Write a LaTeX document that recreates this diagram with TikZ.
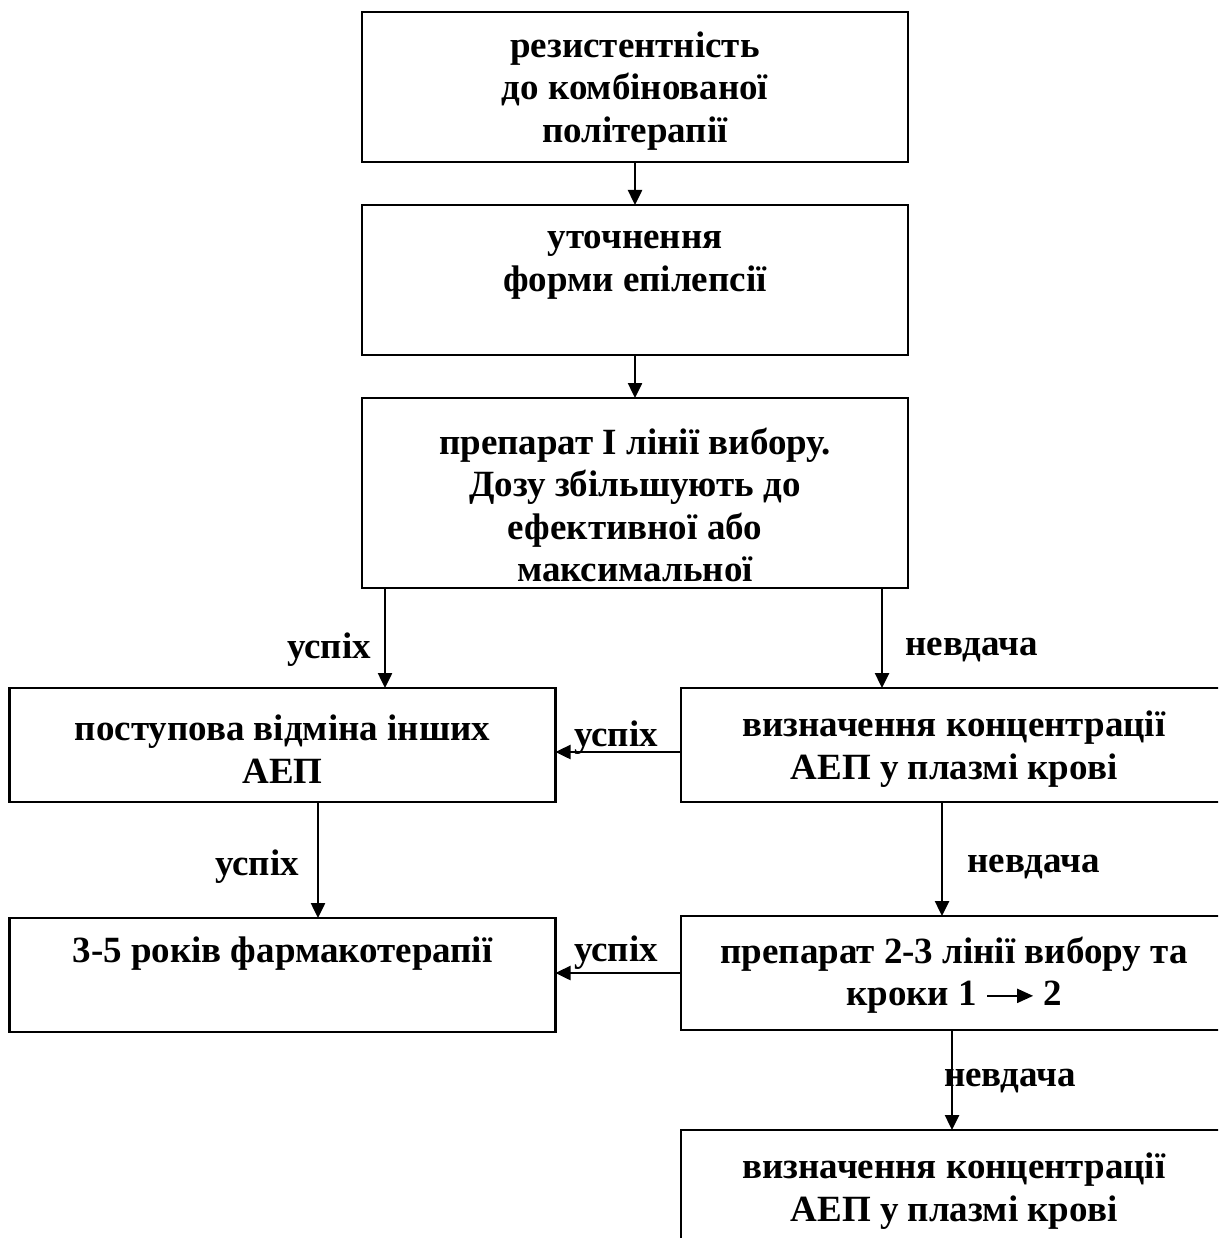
\documentclass[tikz,border=0pt]{standalone}
\usepackage{fontspec}
\setmainfont{Liberation Serif}
\usetikzlibrary{arrows.meta}
\begin{document}
\begin{tikzpicture}[x=1pt,y=-1pt,
 box/.style={draw,line width=2.5pt,minimum width=546pt,inner sep=0pt,outer sep=0pt},
 txt/.style={align=center,font=\fontsize{37}{42.5}\selectfont\bfseries,inner sep=0pt},
 lbl/.style={font=\fontsize{37}{42.5}\selectfont\bfseries,inner sep=0pt},
 arr/.style={line width=2.5pt,-{Triangle[length=15pt,width=14pt]}}]
\useasboundingbox (0,0) rectangle (1218,1238);
\clip (0,0) rectangle (1218,1238);
\fill[white] (0,0) rectangle (1218,1238);
% boxes
\node[box,minimum height=150pt] (b1) at (635,87) {};
\node[box,minimum height=150pt] (b2) at (635,280) {};
\node[box,minimum height=190pt] (b3) at (635,493) {};
\node[box,minimum height=114pt] (b4) at (282.5,745) {};
\node[box,minimum height=114pt] (b5) at (954,745) {};
\node[box,minimum height=114pt] (b6) at (282.5,975) {};
\node[box,minimum height=114pt] (b7) at (954,973) {};
\node[box,minimum height=140pt] (b8) at (954,1200) {};
% texts
\node[txt] (t1) at (635,91) {резистентність\\до комбінованої\\політерапії};
\node[txt] (t2) at (635,265) {уточнення\\форми епілепсії};
\node[txt] (t3) at (635,505) {препарат І лінії вибору.\\Дозу збільшують до\\ефективної або\\максимальної};
\node[txt] (t4) at (282.5,749) {поступова відміна інших\\АЕП};
\node[txt] (t5) at (954,749) {визначення концентрації\\АЕП у плазмі крові};
\node[txt] (t6) at (282.5,954) {3-5 років фармакотерапії};
\node[txt] (t7) at (954,975) {препарат 2-3 лінії вибору та\\кроки 1 \tikz[baseline=-0.1ex]\draw[line width=2pt,-{Triangle[length=16pt,width=14pt]}] (0pt,8pt) -- (46pt,8pt); 2};
\node[txt] (t8) at (954,1191) {визначення концентрації\\АЕП у плазмі крові};
% connectors
\draw[arr] (b1.south) -- (b2.north);
\draw[arr] (b2.south) -- (b3.north);
\coordinate (s1) at ([xshift=-250pt]b3.south);
\draw[arr] (s1) -- (s1 |- b4.north);
\coordinate (f1) at ([xshift=247pt]b3.south);
\draw[arr] (f1) -- (f1 |- b5.north);
\draw[arr] ([yshift=-7pt]b5.west) -- ([yshift=-7pt]b4.east);
\draw[arr] ([xshift=35.5pt]b4.south) -- ([xshift=35.5pt]b6.north);
\draw[arr] ([xshift=-12pt]b5.south) -- ([xshift=-12pt]b7.north);
\draw[arr] (b7.west) -- (b7.west -| b6.east);
\draw[arr] ([xshift=-2pt]b7.south) -- ([xshift=-2pt]b8.north);
% labels
\node[lbl] (l1) at (329,650) {успіх};
\node[lbl] (l2) at (971.5,650) {невдача};
\node[lbl] (l3) at (616,738) {успіх};
\node[lbl] (l4) at (257,867) {успіх};
\node[lbl] (l5) at (1033.5,867) {невдача};
\node[lbl] (l6) at (616,953) {успіх};
\node[lbl] (l7) at (1010,1081) {невдача};
\end{tikzpicture}
\end{document}
